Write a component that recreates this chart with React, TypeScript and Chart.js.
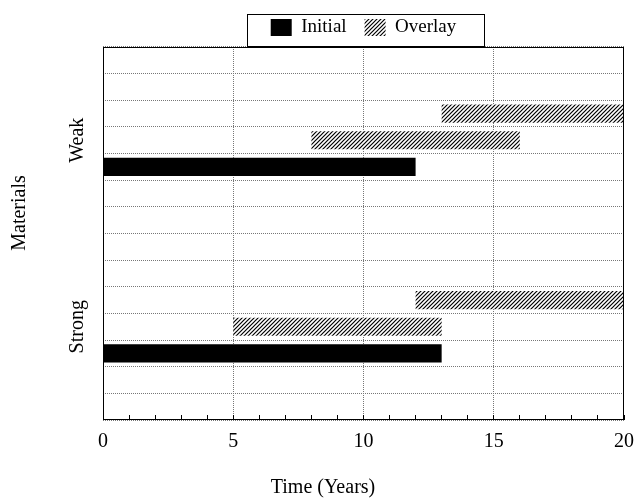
import React, { useEffect, useRef } from 'react';
import { Chart, registerables } from 'chart.js';

Chart.register(...registerables);

// ---- data ----
const rowLabels = ['', '', '', 'Weak', '', '', '', '', '', '', 'Strong', '', '', ''];
const initialBars: (number[] | null)[] = [null, null, null, null, [0, 12], null, null, null, null, null, null, [0, 13], null, null];
const overlayBars: (number[] | null)[] = [null, null, [13, 20], [8, 16], null, null, null, null, null, [12, 20], [5, 13], null, null, null];
const seriesNames = ['Initial', 'Overlay'];
const xMin = 0;
const xMax = 20;
const xStep = 1;
const xLabelEvery = 5;
const xTitle = 'Time (Years)';
const yTitle = 'Materials';

const FONT = "'Liberation Serif', 'DejaVu Serif', serif";

function makeHatch(): CanvasPattern | string {
  const c = document.createElement('canvas');
  c.width = 4;
  c.height = 4;
  const g = c.getContext('2d');
  if (!g) return '#888';
  g.fillStyle = '#fff';
  g.fillRect(0, 0, 4, 4);
  g.strokeStyle = '#000';
  g.lineWidth = 1.2;
  g.beginPath();
  g.moveTo(0, 4); g.lineTo(4, 0);
  g.moveTo(-1, 1); g.lineTo(1, -1);
  g.moveTo(3, 5); g.lineTo(5, 3);
  g.stroke();
  return g.createPattern(c, 'repeat') || '#888';
}

const decorPlugin = {
  id: 'decor',
  afterDraw(chart: any) {
    const { ctx, chartArea: a } = chart;
    ctx.save();
    ctx.setLineDash([]);
    ctx.strokeStyle = '#000';
    ctx.lineWidth = 1;
    // plot frame
    const l = Math.round(a.left) + 0.5;
    const t = Math.round(a.top) + 0.5;
    const r = Math.round(a.right) - 0.5;
    const b = Math.round(a.bottom) - 0.5;
    ctx.strokeRect(l, t, r - l, b - t);
    // legend frame
    const hb = chart.legend && chart.legend.legendHitBoxes;
    if (hb && hb.length) {
      const first = hb[0];
      const last = hb[hb.length - 1];
      const bl = Math.round(first.left - 24) + 0.5;
      const br = Math.round(last.left + last.width + 28) + 0.5;
      const bt = Math.round(first.top - 4) + 0.5;
      const bb = t - 1;
      ctx.strokeRect(bl, bt, br - bl, bb - bt);
    }
    // axis titles
    ctx.fillStyle = '#000';
    ctx.font = `20px ${FONT}`;
    ctx.textAlign = 'center';
    ctx.textBaseline = 'middle';
    ctx.fillText(xTitle, 323, 488);
    ctx.translate(20, 213);
    ctx.rotate(-Math.PI / 2);
    ctx.fillText(yTitle, 0, 0);
    ctx.restore();
  },
};

export default function App() {
  const ref = useRef<HTMLCanvasElement | null>(null);

  useEffect(() => {
    if (!ref.current) return;
    const hatch = makeHatch();
    const chart = new Chart(ref.current, {
      type: 'bar',
      data: {
        labels: rowLabels,
        datasets: [
          {
            label: seriesNames[0],
            data: initialBars as any,
            backgroundColor: '#000',
            borderWidth: 0,
            grouped: false,
            barPercentage: 0.68,
            categoryPercentage: 1,
          },
          {
            label: seriesNames[1],
            data: overlayBars as any,
            backgroundColor: hatch as any,
            borderWidth: 0,
            grouped: false,
            barPercentage: 0.68,
            categoryPercentage: 1,
          },
        ],
      },
      options: {
        indexAxis: 'y',
        responsive: false,
        animation: false,
        events: [],
        layout: { padding: { left: 0, right: 13, top: 0, bottom: 0 } },
        plugins: {
          legend: {
            position: 'top',
            fullSize: false,
            labels: {
              boxWidth: 21,
              boxHeight: 17,
              padding: 18,
              color: '#000',
              font: { family: FONT, size: 19 },
            },
          },
          tooltip: { enabled: false },
        },
        scales: {
          y: {
            type: 'category',
            offset: true,
            grid: { offset: true, color: '#777', drawTicks: false, lineWidth: 1 },
            border: { display: false, dash: [1, 1] },
            ticks: {
              autoSkip: false,
              minRotation: 90,
              maxRotation: 90,
              crossAlign: 'center',
              padding: -1,
              color: '#000',
              font: { family: FONT, size: 20 },
            },
            afterFit: (s: any) => {
              s.width = 103;
            },
          },
          x: {
            type: 'linear',
            min: xMin,
            max: xMax,
            ticks: {
              stepSize: xStep,
              autoSkip: false,
              maxRotation: 0,
              padding: 15,
              color: '#000',
              font: { family: FONT, size: 20 },
              callback: (v: any) => (Number(v) % xLabelEvery === 0 ? String(v) : ''),
            },
            grid: {
              color: (c: any) => {
                const v = c.tick ? c.tick.value : 0;
                return v % xLabelEvery === 0 && v > xMin && v < xMax ? '#777' : 'rgba(0,0,0,0)';
              },
              tickColor: '#000',
              tickLength: -5,
              tickWidth: 1,
              tickBorderDash: [],
            },
            border: { display: false, dash: [1, 1] },
            afterFit: (s: any) => {
              s.height = 82;
              s.paddingLeft = 0;
              s.paddingRight = 0;
            },
          },
        },
      } as any,
      plugins: [decorPlugin],
    });
    return () => chart.destroy();
  }, []);

  return (
    <div style={{ position: 'fixed', left: 0, top: 0, width: 637, height: 502, background: '#fff' }}>
      <canvas ref={ref} width={637} height={502} style={{ display: 'block' }} />
    </div>
  );
}
